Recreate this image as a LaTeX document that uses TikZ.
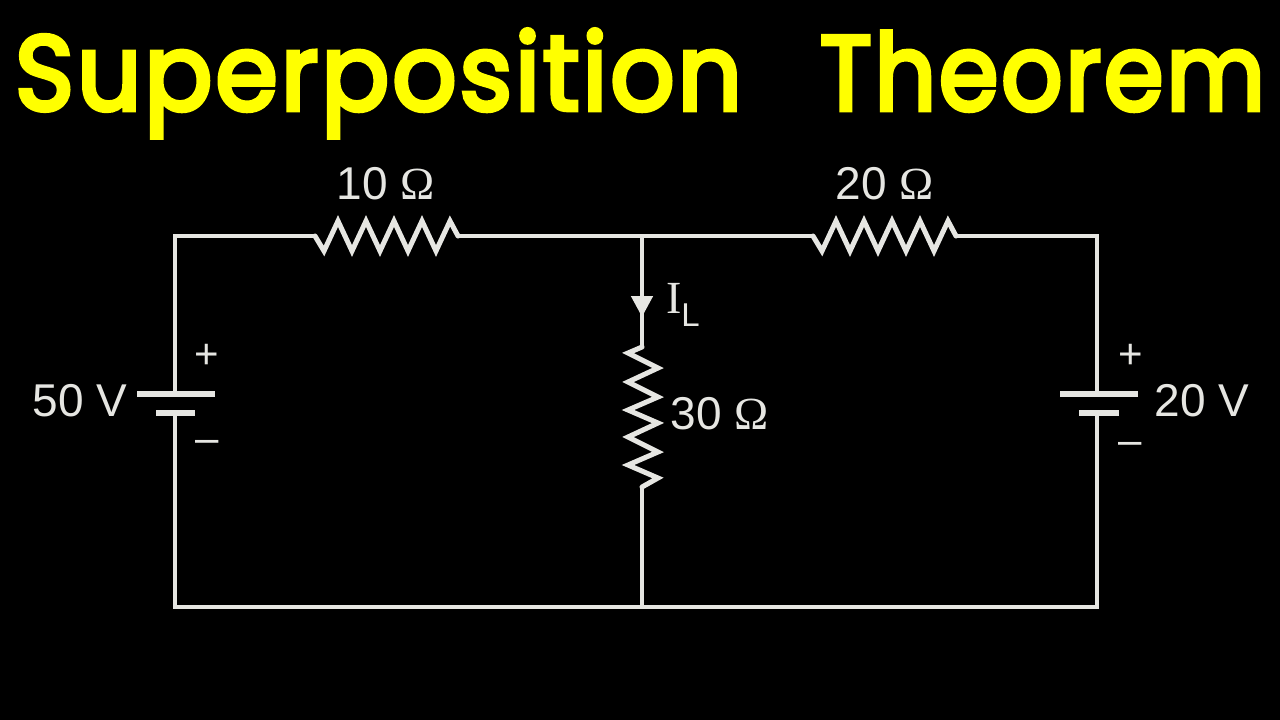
\documentclass[tikz,border=0pt]{standalone}
\usepackage{fontspec}
\usepackage{graphicx}
\setmainfont{Liberation Sans}
\newfontfamily\titlefont[FakeBold=4.4,LetterSpace=3]{Poppins}
\newfontfamily\serfont{Liberation Serif}
\usetikzlibrary{arrows.meta}
\definecolor{wirecol}{HTML}{E6E6E2}
\definecolor{titlecol}{HTML}{FFFF00}
\tikzset{
  wire/.style={draw=wirecol,line width=4.6pt,line join=miter},
  zig/.style={draw=wirecol,line width=5pt,line join=miter,line cap=round},
  plate/.style={draw=wirecol,line width=5.2pt},
  lab/.style={text=wirecol,font=\fontsize{46}{46}\selectfont,inner sep=0pt,outer sep=0pt},
  sign/.style={text=wirecol,font=\fontsize{42}{42}\selectfont,inner sep=0pt,outer sep=0pt},
  ttl/.style={text=titlecol,anchor=base west,inner sep=0pt,outer sep=0pt},
}
\newcommand{\omg}{{\serfont\char"03A9}}
\newcommand{\ttext}[2]{\resizebox{#1pt}{\height}{\fontsize{106}{106}\titlefont #2}}
\begin{document}
\begin{tikzpicture}[x=1pt,y=-1pt]
\useasboundingbox[fill=black] (0,0) rectangle (1280,720);
% title
\node[ttl] (t1) at (15,110) {\ttext{727}{Superposition}};
\node[ttl] (t2) at (820,110) {\ttext{445}{Theorem}};
% circuit points
\coordinate (tl) at (175,236);
\coordinate (tm) at (642,236);
\coordinate (tr) at (1097,236);
\coordinate (bl) at (175,607);
\coordinate (bm) at (642,607);
\coordinate (br) at (1097,607);
\coordinate (r1a) at (315,236);
\coordinate (r1b) at (458,236);
\coordinate (r2a) at (813,236);
\coordinate (r2b) at (956,236);
\coordinate (r3a) at (642,347);
\coordinate (r3b) at (642,487);
\coordinate (tip) at (642,317);
\coordinate (tipin) at (642,305);
\coordinate (b1p) at (175,394);
\coordinate (b1pl) at (137,394);
\coordinate (b1pr) at (215,394);
\coordinate (b1n) at (175,413);
\coordinate (b1nl) at (156,413);
\coordinate (b1nr) at (195,413);
\coordinate (b2p) at (1097,394);
\coordinate (b2pl) at (1060,394);
\coordinate (b2pr) at (1138,394);
\coordinate (b2n) at (1097,413);
\coordinate (b2nl) at (1079,413);
\coordinate (b2nr) at (1119,413);
% wires
\draw[wire] (b1p) -- (tl) -- (r1a);
\draw[wire] (r1b) -- (r2a);
\draw[wire] (r2b) -- (tr) -- (b2p);
\draw[wire] (b1n) -- (bl) -- (br) -- (b2n);
\draw[wire] (r3b) -- (bm);
\draw[wire,-{Triangle[length=21pt,width=21pt]}] (tm) -- (tip);
\draw[wire] (tipin) -- (r3a);
% resistors
\draw[zig] (r1a) -- ++(9,15) -- ++(14,-30) -- ++(14,30) -- ++(14,-30) -- ++(14,30) -- ++(14,-30) -- ++(14,30) -- ++(14,-30) -- ++(14,30) -- ++(14,-30) -- (r1b);
\draw[zig] (r2a) -- ++(9,15) -- ++(14,-30) -- ++(14,30) -- ++(14,-30) -- ++(14,30) -- ++(14,-30) -- ++(14,30) -- ++(14,-30) -- ++(14,30) -- ++(14,-30) -- (r2b);
\draw[zig] (r3a) -- ++(-14,6) -- ++(30,15) -- ++(-30,14) -- ++(30,15) -- ++(-30,13) -- ++(30,13) -- ++(-30,14) -- ++(30,15) -- ++(-30,13) -- ++(30,13) -- (r3b);
% batteries
\draw[plate] (b1pl) -- (b1pr);
\draw[plate] (b1nl) -- (b1nr);
\draw[plate] (b2pl) -- (b2pr);
\draw[plate] (b2nl) -- (b2nr);
% labels
\node[lab] (l10) at (386,184) {10 \omg};
\node[lab] (l20) at (885,184) {20 \omg};
\node[lab] (l30) at (720,414) {30 \omg};
\node[lab] (l50) at (80,401) {50 V};
\node[lab] (l20v) at (1202,401) {20 V};
\node[lab,anchor=base west] (il) at (666,313) {{\serfont I}\raisebox{-13pt}{\fontsize{33}{33}\selectfont L}};
\node[sign] (p1) at (207,356) {+};
\node[sign] (m1) at (207,446) {–};
\node[sign] (p2) at (1131,356) {+};
\node[sign] (m2) at (1130,448) {–};
\end{tikzpicture}
\end{document}
